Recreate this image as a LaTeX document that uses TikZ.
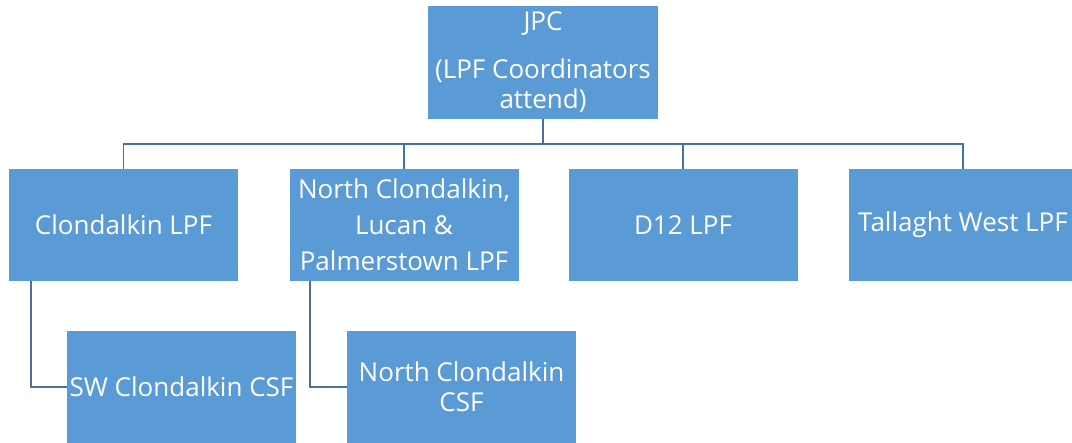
\documentclass[tikz,border=0pt]{standalone}
\usepackage{fontspec}
\setmainfont{Open Sans}
\usetikzlibrary{calc}

\definecolor{boxblue}{RGB}{91,155,213}
\definecolor{linkblue}{RGB}{70,114,160}

\tikzset{
    unit/.style={rectangle,fill=boxblue,text=white,align=center,inner sep=0pt,
        minimum width=229pt,minimum height=112pt,font=\fontsize{26}{30}\selectfont},
    link/.style={draw=linkblue,line width=1.5pt}
}

\begin{document}
\begin{tikzpicture}[x=1pt,y=-1pt]
        \useasboundingbox (0,0) rectangle (1072,443);
        \clip (0,0) rectangle (1072,443);

        % top
        \node[unit,minimum width=230pt,minimum height=113pt] (jpc) at (543,62.5) {JPC\\[18pt](LPF Coordinators\\attend)};
        \coordinate (bus) at (543,144);

        % forums
        \node[unit,font=\fontsize{26}{36}\selectfont] (clond) at (123.5,225) {Clondalkin LPF};
        \node[unit,font=\fontsize{26}{36}\selectfont] (north) at (404,225) {North Clondalkin,\\Lucan \&\\Palmerstown LPF};
        \node[unit] (d12) at (683,225) {D12 LPF};
        \node[unit] (tallaght) at (963,225) {Tallaght West LPF};

        % sub forums
        \node[unit] (swcsf) at (181.5,387) {SW Clondalkin CSF};
        \node[unit] (nccsf) at (461.5,387) {North Clondalkin\\CSF};

        % links
        \draw[link] (jpc.south) -- (bus);
        \draw[link] (clond.north) |- (tallaght.north |- bus) -- (tallaght.north);
        \foreach \f in {north,d12}
            \draw[link] (\f.north) -- (\f.north |- bus);

        \draw[link] ([xshift=-92.5pt]clond.south) |- (swcsf.west);
        \draw[link] ([xshift=-94pt]north.south) |- (nccsf.west);
\end{tikzpicture}
\end{document}
